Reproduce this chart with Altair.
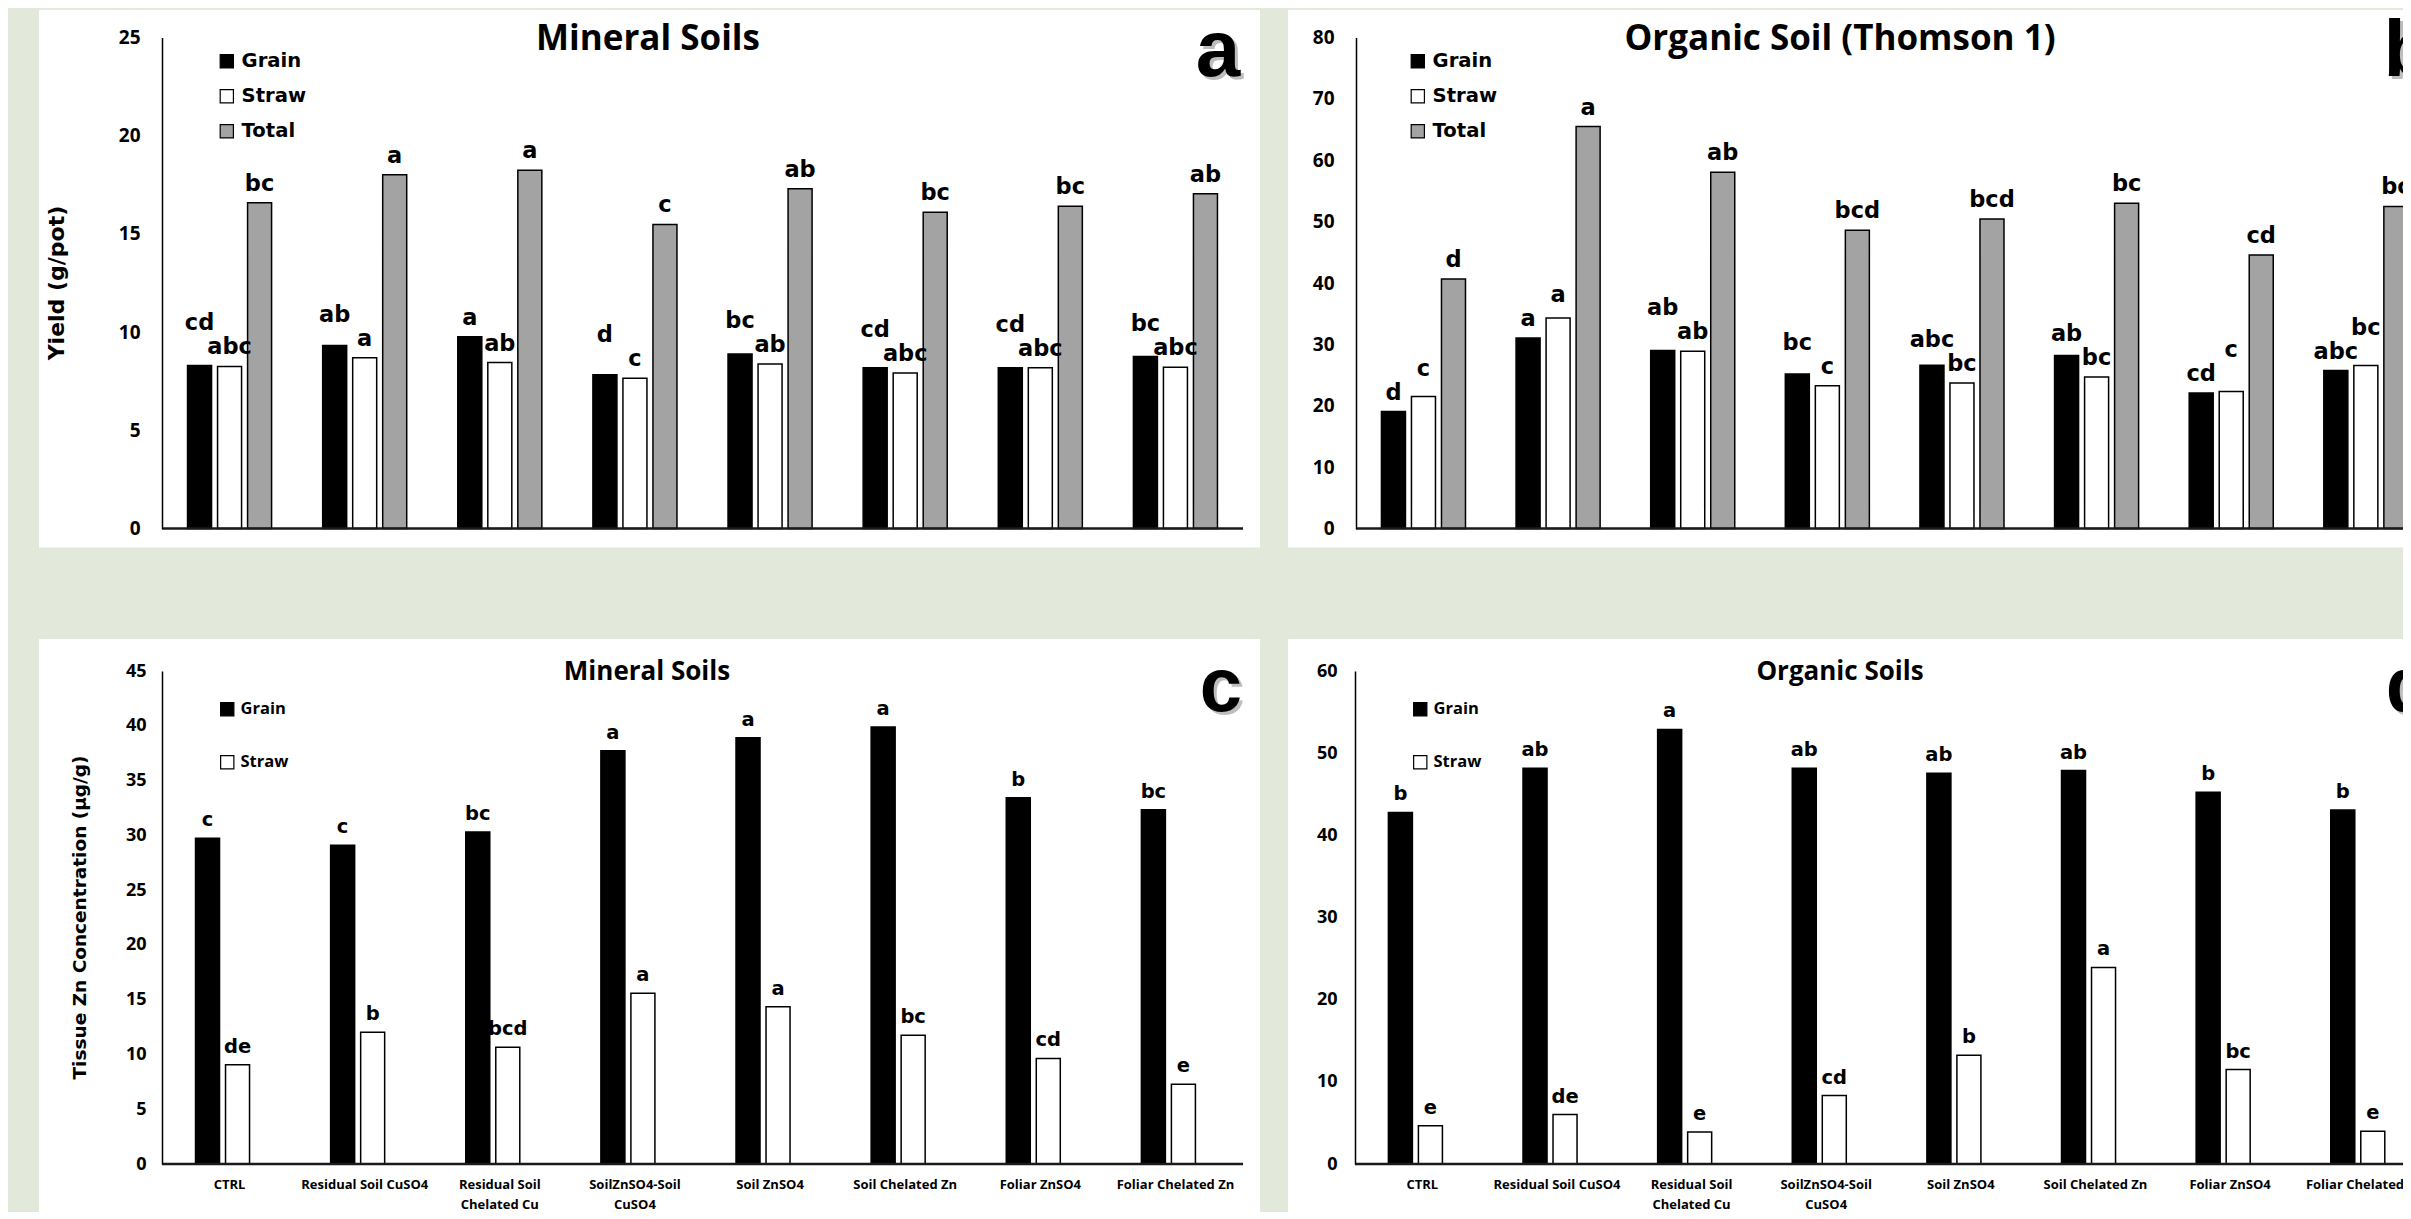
import altair as alt
import pandas as pd

treatments = ["CTRL", "Residual Soil CuSO4", "Residual Soil|Chelated Cu",
              "SoilZnSO4-Soil|CuSO4", "Soil ZnSO4", "Soil Chelated Zn",
              "Foliar ZnSO4", "Foliar Chelated Zn"]
parts3 = ["Grain", "Straw", "Total"]
parts2 = ["Grain", "Straw"]
colors3 = ["#000000", "#ffffff", "#a3a3a3"]
colors2 = ["#000000", "#ffffff"]

# Panel a: Mineral soils yield (g/pot)
a_grain = [8.30, 9.32, 9.76, 7.83, 8.89, 8.19, 8.19, 8.76]
a_straw = [8.25, 8.69, 8.45, 7.65, 8.38, 7.92, 8.19, 8.21]
a_total = [16.59, 18.01, 18.24, 15.48, 17.30, 16.10, 16.41, 17.04]
a_grain_let = ["cd", "ab", "a", "d", "bc", "cd", "cd", "bc"]
a_straw_let = ["abc", "a", "ab", "c", "ab", "abc", "abc", "abc"]
a_total_let = ["bc", "a", "a", "c", "ab", "bc", "bc", "ab"]

# Panel b: Organic soil (Thomson 1) yield
b_grain = [19.06, 31.03, 29.00, 25.16, 26.61, 28.18, 22.08, 25.74]
b_straw = [21.50, 34.28, 28.88, 23.24, 23.71, 24.70, 22.31, 26.55]
b_total = [40.67, 65.49, 58.05, 48.58, 50.44, 52.99, 44.57, 52.47]
b_grain_let = ["d", "a", "ab", "bc", "abc", "ab", "cd", "abc"]
b_straw_let = ["c", "a", "ab", "c", "bc", "bc", "c", "bc"]
b_total_let = ["d", "a", "ab", "bcd", "bcd", "bc", "cd", "bc"]

# Panel c: Mineral soils tissue Zn
c_grain = [29.74, 29.09, 30.31, 37.71, 38.90, 39.88, 33.42, 32.34]
c_straw = [9.06, 12.02, 10.65, 15.59, 14.36, 11.76, 9.64, 7.29]
c_grain_let = ["c", "c", "bc", "a", "a", "a", "b", "bc"]
c_straw_let = ["de", "b", "bcd", "a", "a", "bc", "cd", "e"]

# Panel d: Organic soils tissue Zn
d_grain = [42.78, 48.17, 52.89, 48.17, 47.55, 47.88, 45.24, 43.07]
d_straw = [4.67, 6.02, 3.90, 8.33, 13.23, 23.92, 11.50, 3.99]
d_grain_let = ["b", "ab", "a", "ab", "ab", "ab", "b", "b"]
d_straw_let = ["e", "de", "e", "cd", "b", "a", "bc", "e"]

BAR_FONT = "DejaVu Sans"
TXT_FONT = "Open Sans"
LET_FONT = "Liberation Sans"
one = pd.DataFrame({"k": [0]})
cats = pd.DataFrame({"treatment": treatments})


def build_df(grain, straw, total, gl, sl, tl, lift):
    rows = []
    for i, t in enumerate(treatments):
        g, s = grain[i], straw[i]
        if g >= s:
            gy, sy = max(g, s + lift), s
        else:
            gy, sy = g, max(s, g + lift)
        rows.append(dict(treatment=t, part="Grain", value=g, letter=gl[i], label_y=gy))
        rows.append(dict(treatment=t, part="Straw", value=s, letter=sl[i], label_y=sy))
        if total is not None:
            rows.append(dict(treatment=t, part="Total", value=total[i], letter=tl[i], label_y=total[i]))
    return pd.DataFrame(rows)


def panel(df, parts, colors, L, Wx, Wv, H, T, B, ymax, ystep, p_in, p_off,
          title, title_fs, title_x, letter, letter_x, letter_y, letter_fs,
          ytitle, ytitle_x, ytitle_fs, tick_fs, tick_pad, show_x, bar_fs, xlab_fs,
          leg_font, leg_x, leg_y, leg_fs, leg_row):
    # L: distance from the white panel's left edge to the value axis
    x = alt.X("treatment:N", sort=treatments, axis=None,
              scale=alt.Scale(paddingInner=p_in, paddingOuter=p_in / 2, range=[L, L + Wx]))
    xo = alt.XOffset("part:N", sort=parts,
                     scale=alt.Scale(paddingInner=p_off, paddingOuter=0))
    yscale = alt.Scale(domain=[0, ymax], nice=False, range=[T + H, T])
    yaxis = alt.Axis(title=None, values=list(range(0, ymax + 1, ystep)), ticks=False,
                     tickSize=0, grid=False, domainColor="black", domainWidth=1.5,
                     labelFont=TXT_FONT, labelFontWeight="bold", labelFontSize=tick_fs,
                     labelPadding=tick_pad, labelColor="black", offset=-L, zindex=1)
    y = alt.Y("value:Q", scale=yscale, axis=yaxis)
    fill = alt.Fill("part:N", sort=parts, scale=alt.Scale(domain=parts, range=colors),
                    legend=alt.Legend(title=None, orient="none", legendX=L + leg_x,
                                      legendY=T + leg_y, direction="vertical",
                                      symbolType="square", symbolSize=175,
                                      symbolStrokeColor="black", symbolStrokeWidth=1.2,
                                      labelFont=leg_font, labelFontWeight="bold",
                                      labelFontSize=leg_fs, labelColor="black",
                                      rowPadding=leg_row, labelOffset=5, padding=0))
    bars = alt.Chart(df).mark_bar(stroke="black", strokeWidth=1.5, clip=True).encode(
        x=x, xOffset=xo, y=y, fill=fill)
    labels = alt.Chart(df).mark_text(font=BAR_FONT, fontWeight="bold", fontSize=bar_fs,
                                     baseline="alphabetic", dy=-12, color="black",
                                     clip=True).encode(
        x=x, xOffset=xo, y=alt.Y("label_y:Q", scale=yscale, axis=yaxis), text="letter:N")
    base = alt.Chart(one).mark_rule(color="#1a1a1a", strokeWidth=2.5, clip=True).encode(
        x=alt.value(L), x2=alt.value(L + Wx), y=alt.value(T + H))
    ttl = alt.Chart(one).mark_text(text=title, font=TXT_FONT, fontWeight="bold",
                                   fontSize=title_fs, align="center", baseline="middle",
                                   color="black").encode(x=alt.value(L + title_x),
                                                         y=alt.value(T + 1))
    shadow = alt.Chart(one).mark_text(text=letter, font=LET_FONT, fontWeight="bold",
                                      fontSize=letter_fs, align="center", baseline="alphabetic",
                                      color="#6e6e6e", opacity=0.45, clip=True).encode(
        x=alt.value(L + letter_x + 3), y=alt.value(T + letter_y + 3))
    let = alt.Chart(one).mark_text(text=letter, font=LET_FONT, fontWeight="bold",
                                   fontSize=letter_fs, align="center", baseline="alphabetic",
                                   color="black", clip=True).encode(
        x=alt.value(L + letter_x), y=alt.value(T + letter_y))
    layers = [bars, labels, base, ttl, shadow, let]
    if show_x:
        xl = alt.Chart(cats).mark_text(font=TXT_FONT, fontWeight="bold", fontSize=xlab_fs,
                                       baseline="top", align="center", lineBreak="|",
                                       lineHeight=20, color="black", clip=True).encode(
            x=x, y=alt.value(T + H + 15), text="treatment:N")
        layers.append(xl)
    if ytitle:
        yt = alt.Chart(one).mark_text(text=ytitle, font=BAR_FONT, fontWeight="bold",
                                      fontSize=ytitle_fs, angle=270, align="center",
                                      baseline="middle", color="black").encode(
            x=alt.value(L + ytitle_x), y=alt.value(T + H / 2))
        layers.append(yt)
    return alt.layer(*layers).properties(
        width=Wv, height=T + H + B, view=alt.ViewBackground(fill="white", stroke=None))


# lift values: ~24 px expressed in data units of each panel
pa = panel(build_df(a_grain, a_straw, a_total, a_grain_let, a_straw_let, a_total_let, 24 * 25 / 491),
           parts3, colors3, 123, 1081, 1221, 491, 27.5, 19, 25, 5, 0.378, 0.2,
           "Mineral Soils", 35, 486, "a", 1056, 38, 80,
           "Yield (g/pot)", -105, 22, 19, 22, False, 22.5, 0,
           BAR_FONT, 55, 14, 19.6, 14)
pb = panel(build_df(b_grain, b_straw, b_total, b_grain_let, b_straw_let, b_total_let, 24 * 80 / 491),
           parts3, colors3, 68, 1077, 1115, 491, 27.5, 19, 80, 10, 0.378, 0.2,
           "Organic Soil (Thomson 1)", 35, 484, "b", 1052, 38, 80,
           None, 0, 0, 19, 22, False, 22.5, 0,
           BAR_FONT, 52, 14, 19.6, 14)
pc = panel(build_df(c_grain, c_straw, None, c_grain_let, c_straw_let, None, 24 * 45 / 493),
           parts2, colors2, 123, 1081, 1221, 493, 32, 48, 45, 5, 0.496, 0.25,
           "Mineral Soils", 26, 485, "c", 1059, 40, 76,
           "Tissue Zn Concentration (\u00b5g/g)", -82, 18.5, 18, 16, True, 19.5, 13,
           TXT_FONT, 57, 30, 16.5, 34)
pd_ = panel(build_df(d_grain, d_straw, None, d_grain_let, d_straw_let, None, 24 * 60 / 493),
            parts2, colors2, 67, 1077, 1115, 493, 32, 48, 60, 10, 0.496, 0.25,
            "Organic Soils", 26, 485, "d", 1054, 40, 76,
            None, 0, 0, 18, 18, True, 19.5, 13,
            TXT_FONT, 57, 30, 16.5, 34)

row1 = alt.hconcat(pa, pb, spacing=28).resolve_scale(fill="independent").resolve_legend(fill="independent")
row2 = alt.hconcat(pc, pd_, spacing=28).resolve_scale(fill="independent").resolve_legend(fill="independent")
chart = (alt.vconcat(row1, row2, spacing=91)
         .resolve_scale(fill="independent").resolve_legend(fill="independent")
         .properties(background="#e2e8da",
                     padding={"left": 31, "top": 2, "right": 0, "bottom": 0}))

chart.save("out.html", embed_options={"renderer": "svg", "actions": False})
